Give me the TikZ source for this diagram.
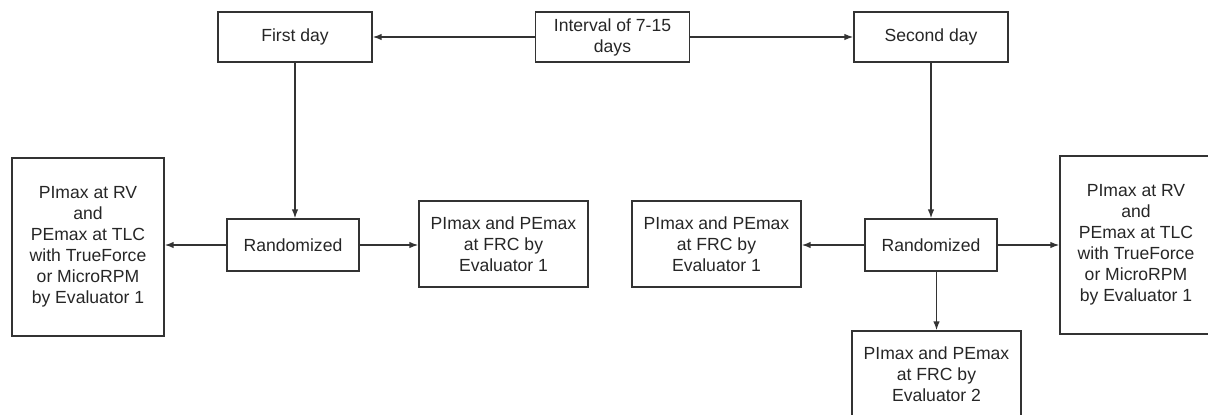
\documentclass[tikz,border=0pt]{standalone}
\usepackage{fontspec}
\setmainfont{Liberation Sans}
\usetikzlibrary{arrows.meta,positioning}
\usepackage{xcolor}
\definecolor{cline}{HTML}{333333}
\definecolor{ctext}{HTML}{262626}

\begin{document}
\begin{tikzpicture}[x=0.025cm, y=-0.025cm,
    box/.style={draw=cline, line width=1pt, text=ctext, align=center,
      inner sep=2pt, font=\fontsize{12.5}{14.9}\selectfont},
    daybox/.style={box, minimum width=3.85cm, minimum height=1.25cm},
    randbox/.style={box, minimum width=3.3cm, minimum height=1.3cm},
    evalbox/.style={box, minimum width=4.225cm, minimum height=2.15cm},
    bigbox/.style={box, minimum width=3.8cm, minimum height=4.45cm},
    arr/.style={draw=cline, line width=1pt, -{Latex[length=2.2mm,width=1.6mm]}}]
  \useasboundingbox (0,0) rectangle (1208,414);

  % top row
  \node[daybox] (first) at (295,37) {First day};
  \node[daybox] (interval) at (612.5,37) {Interval of 7-15\\days};
  \node[daybox] (second) at (931,37) {Second day};

  % first day branch
  \node[randbox] (randA) at (293,245) {Randomized};
  \node[bigbox] (bigA) at (88,247) {PImax at RV\\and\\PEmax at TLC\\with TrueForce\\or MicroRPM\\by Evaluator 1};
  \node[evalbox] (evalA) at (503.5,244) {PImax and PEmax\\at FRC by\\Evaluator 1};

  % second day branch
  \node[randbox] (randB) at (931,245) {Randomized};
  \node[evalbox] (evalB) at (716.5,244) {PImax and PEmax\\at FRC by\\Evaluator 1};
  \node[bigbox] (bigB) at (1136,245) {PImax at RV\\and\\PEmax at TLC\\with TrueForce\\or MicroRPM\\by Evaluator 1};
  \node[evalbox] (evalC) at (936.5,374) {PImax and PEmax\\at FRC by\\Evaluator 2};

  % connectors
  \draw[arr] (interval) -- (first);
  \draw[arr] (interval) -- (second);
  \draw[arr] (first) -- (first |- randA.north);
  \draw[arr] (second) -- (second |- randB.north);
  \draw[arr] (randA.west) -- (randA.west -| bigA.east);
  \draw[arr] (randA.east) -- (randA.east -| evalA.west);
  \draw[arr] (randB.west) -- (randB.west -| evalB.east);
  \draw[arr] (randB.east) -- (randB.east -| bigB.west);
  \draw[arr] (randB.south -| evalC.north) -- (evalC.north);
\end{tikzpicture}
\end{document}
